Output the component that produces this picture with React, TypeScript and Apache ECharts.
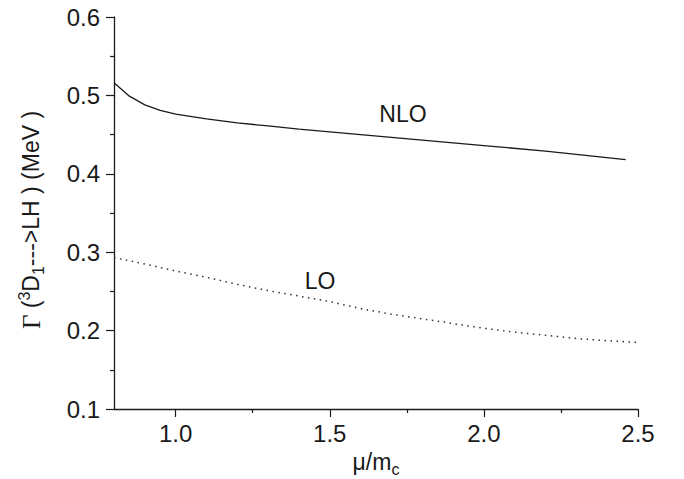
import React, { useEffect, useRef } from "react";
import * as echarts from "echarts";

const nloX = [0.8, 0.85, 0.9, 0.95, 1.0, 1.1, 1.2, 1.3, 1.4, 1.6, 1.8, 2.0, 2.2, 2.46];
const nloY = [0.516, 0.499, 0.488, 0.481, 0.476, 0.47, 0.465, 0.461, 0.457, 0.45, 0.443, 0.436, 0.429, 0.418];

const loX = [0.8, 0.9, 1.0, 1.1, 1.2, 1.3, 1.4, 1.5, 1.6, 1.7, 1.8, 1.9, 2.0, 2.1, 2.2, 2.3, 2.4, 2.5];
const loY = [0.293, 0.285, 0.276, 0.268, 0.259, 0.251, 0.244, 0.237, 0.228, 0.221, 0.215, 0.209, 0.203, 0.198, 0.194, 0.19, 0.187, 0.185];

const xMajorTicks = [1.0, 1.5, 2.0, 2.5];
const xMinorTicks = [1.25, 1.75, 2.25];
const yTicks = [0.1, 0.2, 0.3, 0.4, 0.5, 0.6];

const FONT = "Liberation Sans";
const INK = "#1a1a1a";

export default function App() {
  const ref = useRef<HTMLDivElement>(null);
  useEffect(() => {
    if (!ref.current) return;
    const chart = echarts.init(ref.current, null, { renderer: "svg" });
    chart.setOption({
      animation: false,
      backgroundColor: "#ffffff",
      grid: { left: 114, top: 17, width: 524, height: 392, containLabel: false, outerBoundsMode: "none" },
      xAxis: [
        {
          type: "value",
          min: 0.8,
          max: 2.5,
          splitLine: { show: false },
          axisLine: { show: true, lineStyle: { color: INK, width: 1.3 } },
          axisTick: { show: true, length: 8, customValues: xMajorTicks, lineStyle: { color: INK, width: 1.2 } },
          axisLabel: {
            customValues: xMajorTicks,
            margin: 12,
            fontFamily: FONT,
            fontSize: 24,
            color: INK,
            formatter: (v: number) => v.toFixed(1),
          },
          name: "{n|μ/m}{sub|c}",
          nameLocation: "middle",
          nameGap: 38,
          nameTextStyle: {
            rich: {
              n: { fontFamily: FONT, fontSize: 23, color: INK, lineHeight: 30, verticalAlign: "middle" },
              sub: { fontFamily: FONT, fontSize: 16, color: INK, lineHeight: 16, verticalAlign: "bottom" },
            },
          },
        },
        {
          type: "value",
          min: 0.8,
          max: 2.5,
          position: "bottom",
          splitLine: { show: false },
          axisLine: { show: false },
          axisLabel: { show: false },
          axisTick: { show: true, length: 4, customValues: xMinorTicks, lineStyle: { color: INK, width: 1.2 } },
        },
      ],
      yAxis: {
        type: "value",
        min: 0.1,
        max: 0.6,
        interval: 0.1,
        splitLine: { show: false },
        axisLine: { show: true, lineStyle: { color: INK, width: 1.3 } },
        axisTick: { show: true, length: 8, lineStyle: { color: INK, width: 1.2 } },
        minorTick: { show: true, splitNumber: 2, length: 4, lineStyle: { color: INK, width: 1.2 } },
        axisLabel: {
          customValues: yTicks,
          margin: 14,
          fontFamily: FONT,
          fontSize: 24,
          color: INK,
          formatter: (v: number) => v.toFixed(1),
        },
        name: "{g|Γ}{n| (}{sup|3}{n|D}{sub|1}{n|--->LH ) (MeV )}",
        nameLocation: "middle",
        nameRotate: 90,
        nameGap: 68,
        nameTextStyle: {
          padding: [0, 14, 0, 0],
          rich: {
            g: { fontFamily: "Liberation Serif", fontSize: 25, color: INK, lineHeight: 30, verticalAlign: "middle" },
            n: { fontFamily: FONT, fontSize: 23, color: INK, lineHeight: 30, verticalAlign: "middle" },
            sup: { fontFamily: FONT, fontSize: 16, color: INK, lineHeight: 16, verticalAlign: "top" },
            sub: { fontFamily: FONT, fontSize: 16, color: INK, lineHeight: 16, verticalAlign: "bottom" },
          },
        },
      },
      series: [
        {
          name: "NLO",
          type: "line",
          data: nloX.map((x, i) => [x, nloY[i]]),
          showSymbol: false,
          smooth: false,
          lineStyle: { color: INK, width: 1.3 },
        },
        {
          name: "LO",
          type: "line",
          data: loX.map((x, i) => [x, loY[i]]),
          showSymbol: false,
          smooth: false,
          lineStyle: { color: "#333", width: 1.5, type: [1.5, 4.5] },
        },
      ],
      graphic: [
        {
          type: "text",
          x: 403,
          y: 114,
          style: { text: "NLO", font: `23px "${FONT}"`, fill: INK, align: "center", verticalAlign: "middle" },
        },
        {
          type: "text",
          x: 320,
          y: 281,
          style: { text: "LO", font: `23px "${FONT}"`, fill: INK, align: "center", verticalAlign: "middle" },
        },
      ],
    });
    return () => chart.dispose();
  }, []);
  return (
    <div
      ref={ref}
      style={{ position: "fixed", left: 0, top: 0, width: 684, height: 479, background: "#fff" }}
    />
  );
}
